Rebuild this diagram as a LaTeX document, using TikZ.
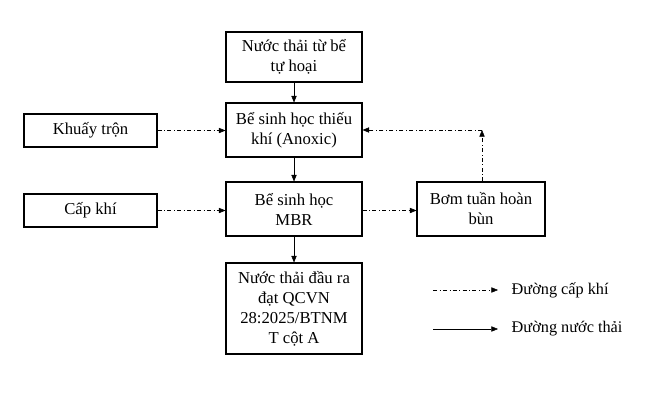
\documentclass[tikz,border=0pt]{standalone}
\usepackage{fontspec}
\setmainfont{Liberation Serif}
\usetikzlibrary{arrows.meta}
\begin{document}
\begin{tikzpicture}[x=0.75pt,y=-0.75pt,
 box/.style={draw,thick,align=center,font=\fontsize{12.5}{15}\selectfont,inner sep=2pt},
 lbl/.style={font=\fontsize{12.2}{14}\selectfont,anchor=west},
 sol/.style={-{Triangle[length=5pt,width=4pt]}},
 dd/.style={dash dot,-{Triangle[length=5pt,width=4pt]}}]
\useasboundingbox (0,0) rectangle (649,415);
\node[box,minimum width=136*0.75pt,minimum height=50*0.75pt] (a) at (294,57) {Nước thải từ bể\\tự hoại};
\node[box,minimum width=136*0.75pt,minimum height=54*0.75pt] (b) at (294,130) {Bể sinh học thiếu\\khí (Anoxic)};
\node[box,minimum width=136*0.75pt,minimum height=54*0.75pt] (c) at (294,209) {Bể sinh học\\MBR};
\node[box,minimum width=136*0.75pt,minimum height=91*0.75pt] (d) at (294,308.5) {Nước thải đầu ra\\đạt QCVN\\28:2025/BTNM\\T cột A};
\node[box,minimum width=133*0.75pt,minimum height=33*0.75pt] (k) at (90.5,130.5) {Khuấy trộn};
\node[box,minimum width=133*0.75pt,minimum height=33*0.75pt] (e) at (90.5,210.5) {Cấp khí};
\node[box,minimum width=128*0.75pt,minimum height=54*0.75pt] (p) at (481,209) {Bơm tuần hoàn\\bùn};
\coordinate (q) at (482,130);
\draw[sol] (a) -- (b);
\draw[sol] (b) -- (c);
\draw[sol] (c) -- (d);
\draw[dd] (k.east) -- (b.west|-k.east);
\draw[dd] (e.east) -- (c.west|-e.east);
\draw[dd] (c.east|-e.east) -- (p.west|-e.east);
\draw[dd] (p.north-|q) -- (q);
\draw[dd] (q) -- (b.east|-q);
\coordinate (l1) at (433,290); \coordinate (l2) at (498,290);
\coordinate (l3) at (433,329); \coordinate (l4) at (498,329);
\draw[dd] (l1) -- (l2);
\draw[sol] (l3) -- (l4);
\node[lbl] (t1) at (507,290) {Đường cấp khí};
\node[lbl] (t2) at (507,329) {Đường nước thải};
\end{tikzpicture}
\end{document}
